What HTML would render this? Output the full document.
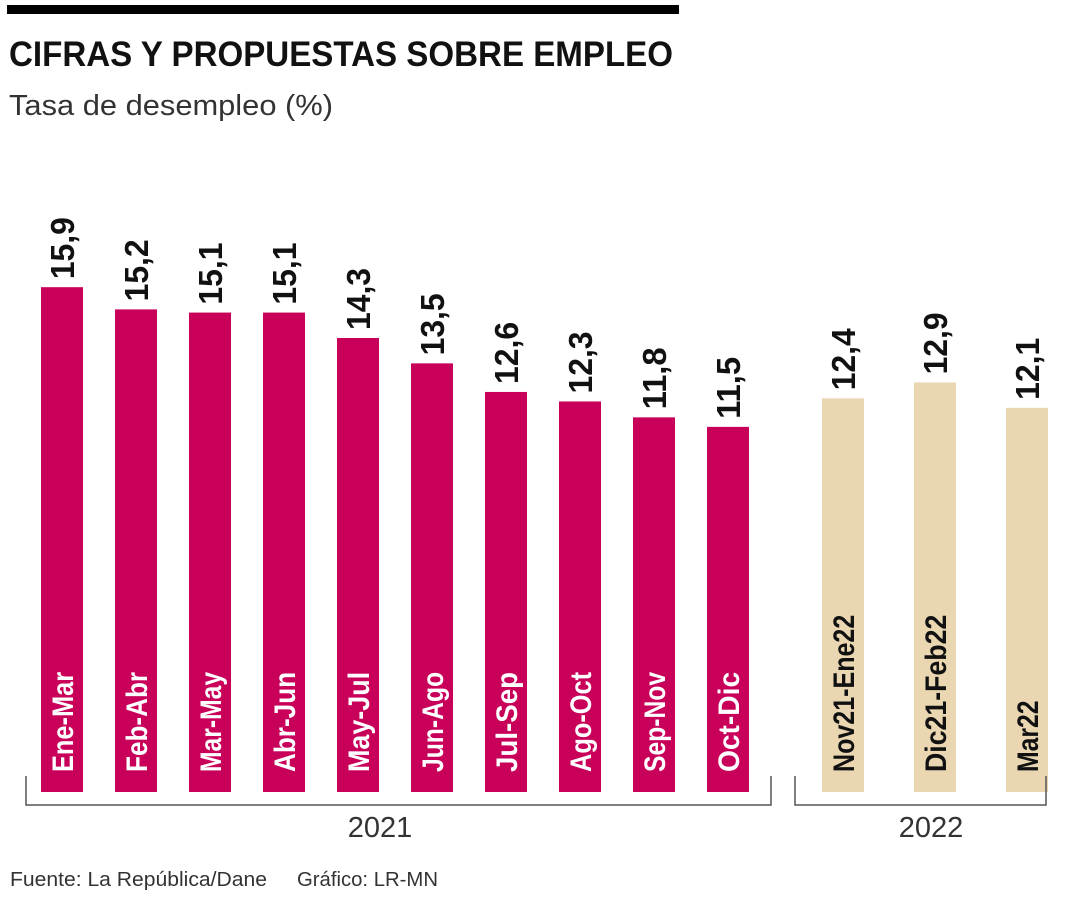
<!DOCTYPE html>
<html><head><meta charset="utf-8"><style>
body{margin:0;background:#fff;width:1080px;height:900px;overflow:hidden;font-family:"Liberation Sans",sans-serif}
</style></head><body>
<svg width="1080" height="900" xmlns="http://www.w3.org/2000/svg">
<rect x="7" y="5" width="672" height="9" fill="#000"/>
<text x="9" y="66" font-size="35" font-weight="bold" fill="#111" textLength="664" lengthAdjust="spacingAndGlyphs">CIFRAS Y PROPUESTAS SOBRE EMPLEO</text>
<text x="9" y="115" font-size="29" fill="#333" textLength="324" lengthAdjust="spacingAndGlyphs">Tasa de desempleo (%)</text>
<g id="bars"></g>
<path d="M26 776V805H771V776" fill="none" stroke="#555" stroke-width="1.5"/>
<path d="M795 776V805H1046V776" fill="none" stroke="#555" stroke-width="1.5"/>
<text x="380" y="837" font-size="29" fill="#333" text-anchor="middle">2021</text>
<text x="931" y="837" font-size="29" fill="#333" text-anchor="middle">2022</text>
<text x="10" y="886" font-size="20" fill="#333" textLength="257" lengthAdjust="spacingAndGlyphs">Fuente: La República/Dane</text>
<text x="297" y="886" font-size="20" fill="#333" textLength="141" lengthAdjust="spacingAndGlyphs">Gráfico: LR-MN</text>
</svg>
<script>
const categories=["Ene-Mar","Feb-Abr","Mar-May","Abr-Jun","May-Jul","Jun-Ago","Jul-Sep","Ago-Oct","Sep-Nov","Oct-Dic","Nov21-Ene22","Dic21-Feb22","Mar22"];
const values=[15.9,15.2,15.1,15.1,14.3,13.5,12.6,12.3,11.8,11.5,12.4,12.9,12.1];
const valueLabels=["15,9","15,2","15,1","15,1","14,3","13,5","12,6","12,3","11,8","11,5","12,4","12,9","12,1"];
const years=[2021,2021,2021,2021,2021,2021,2021,2021,2021,2021,2022,2022,2022];
const NS="http://www.w3.org/2000/svg";
const base=792, k=31.75, bw=42;
function xPos(i){return i<10?41+i*74:822+(i-10)*92;}
function yPos(v){return base-v*k;}
const g=document.getElementById('bars');
categories.forEach((c,i)=>{
  const x=xPos(i), y=yPos(values[i]);
  const r=document.createElementNS(NS,'rect');
  r.setAttribute('x',x);r.setAttribute('y',y);r.setAttribute('width',bw);r.setAttribute('height',base-y);
  r.setAttribute('fill',years[i]===2021?'#c8005a':'#ead7b2');
  
  
  g.appendChild(r);
  const t=document.createElementNS(NS,'text');
  t.setAttribute('transform',`translate(${x+bw/2+11},${base-20}) rotate(-90)`);
  t.setAttribute('font-size','30');t.setAttribute('font-weight','bold');
  t.setAttribute('textLength',String(c.length*14.3));
  t.setAttribute('lengthAdjust','spacingAndGlyphs');
  t.setAttribute('fill',years[i]===2021?'#fff':'#111');
  t.textContent=c;
  
  
  g.appendChild(t);
  const v=document.createElementNS(NS,'text');
  v.setAttribute('transform',`translate(${x+bw/2+12},${y-8}) rotate(-90)`);
  v.setAttribute('font-size','33');v.setAttribute('font-weight','bold');v.setAttribute('fill','#111');
  v.setAttribute('textLength','62');
  v.setAttribute('lengthAdjust','spacingAndGlyphs');
  v.textContent=valueLabels[i];
  
  
  g.appendChild(v);
});
</script>
</body></html>
